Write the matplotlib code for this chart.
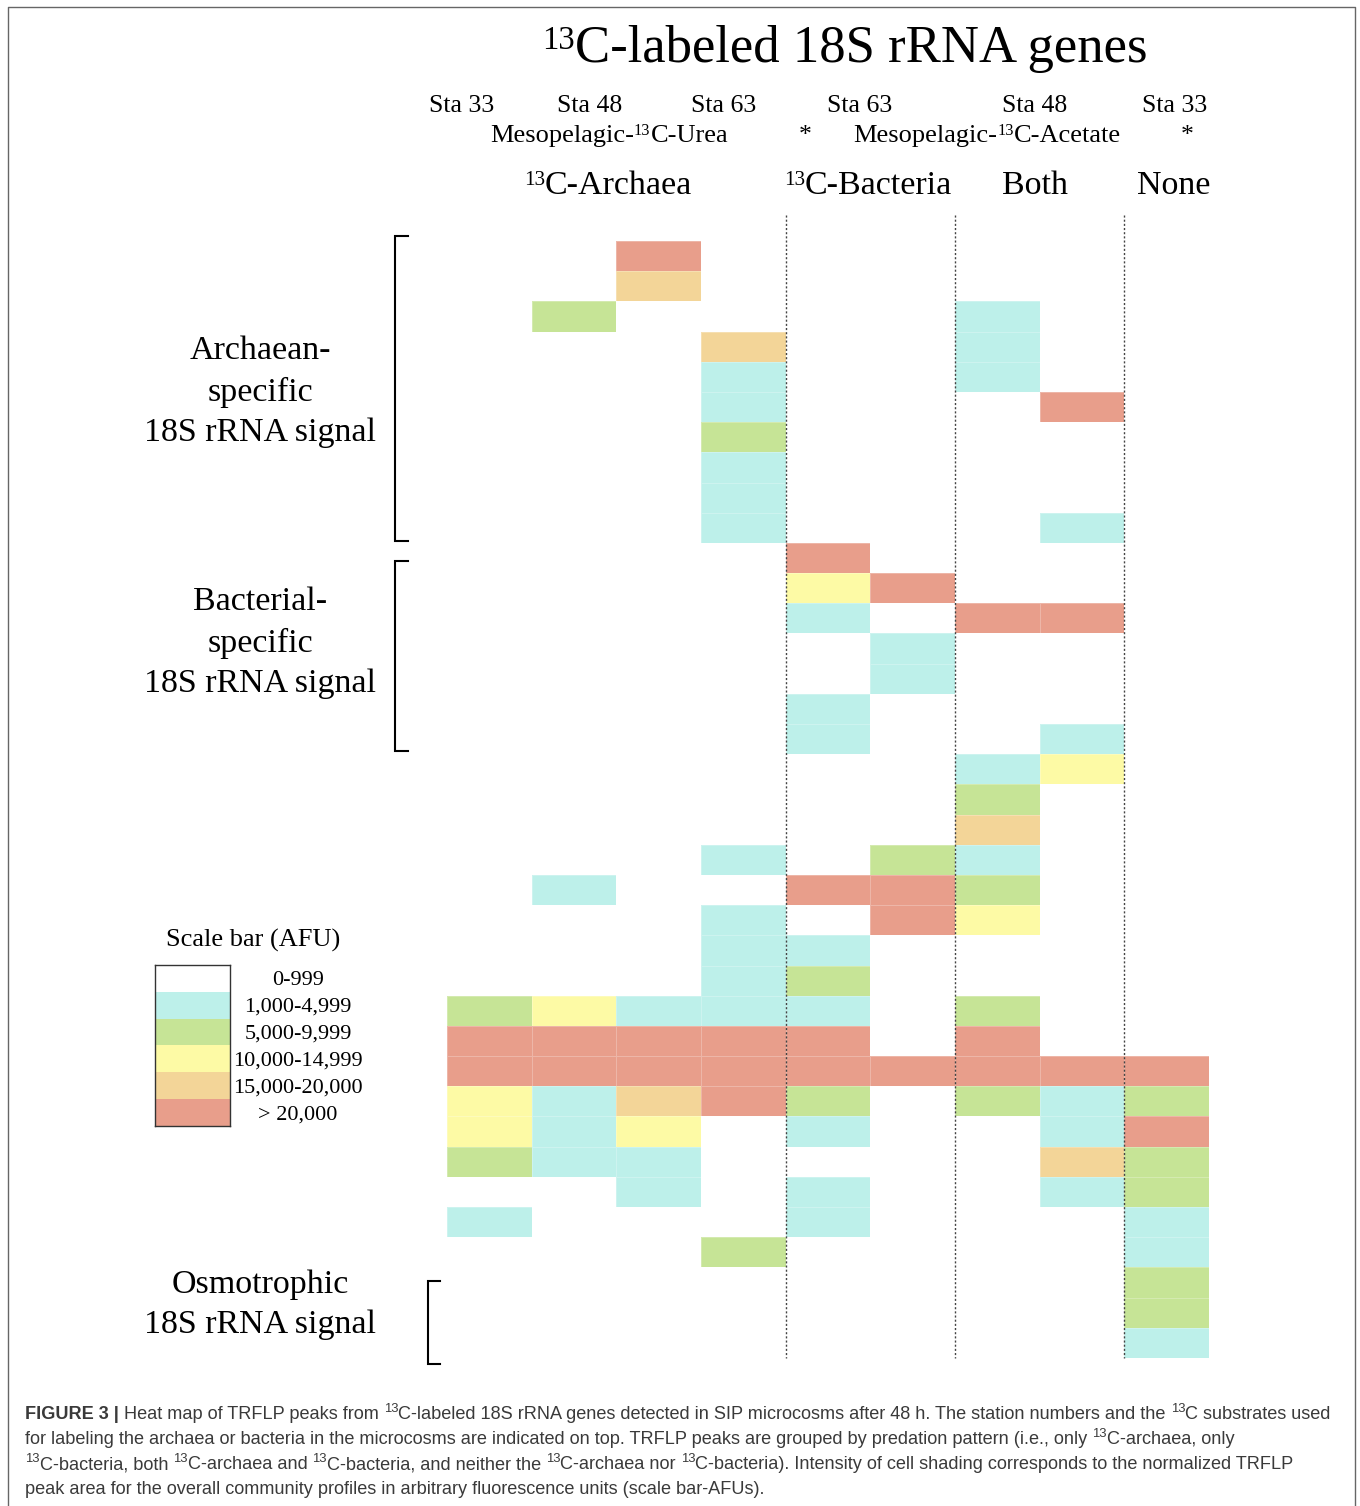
import matplotlib
matplotlib.use("Agg")
import matplotlib.pyplot as plt
import numpy as np
from matplotlib.colors import ListedColormap, BoundaryNorm
from matplotlib import font_manager

# --- data -------------------------------------------------------------
# AFU class per TRFLP peak (row) and column: 0 = 0-999 ... 5 = > 20,000
afu_class = [
    [0, 0, 5, 0, 0, 0, 0, 0, 0],
    [0, 0, 4, 0, 0, 0, 0, 0, 0],
    [0, 2, 0, 0, 0, 0, 1, 0, 0],
    [0, 0, 0, 4, 0, 0, 1, 0, 0],
    [0, 0, 0, 1, 0, 0, 1, 0, 0],
    [0, 0, 0, 1, 0, 0, 0, 5, 0],
    [0, 0, 0, 2, 0, 0, 0, 0, 0],
    [0, 0, 0, 1, 0, 0, 0, 0, 0],
    [0, 0, 0, 1, 0, 0, 0, 0, 0],
    [0, 0, 0, 1, 0, 0, 0, 1, 0],
    [0, 0, 0, 0, 5, 0, 0, 0, 0],
    [0, 0, 0, 0, 3, 5, 0, 0, 0],
    [0, 0, 0, 0, 1, 0, 5, 5, 0],
    [0, 0, 0, 0, 0, 1, 0, 0, 0],
    [0, 0, 0, 0, 0, 1, 0, 0, 0],
    [0, 0, 0, 0, 1, 0, 0, 0, 0],
    [0, 0, 0, 0, 1, 0, 0, 1, 0],
    [0, 0, 0, 0, 0, 0, 1, 3, 0],
    [0, 0, 0, 0, 0, 0, 2, 0, 0],
    [0, 0, 0, 0, 0, 0, 4, 0, 0],
    [0, 0, 0, 1, 0, 2, 1, 0, 0],
    [0, 1, 0, 0, 5, 5, 2, 0, 0],
    [0, 0, 0, 1, 0, 5, 3, 0, 0],
    [0, 0, 0, 1, 1, 0, 0, 0, 0],
    [0, 0, 0, 1, 2, 0, 0, 0, 0],
    [2, 3, 1, 1, 1, 0, 2, 0, 0],
    [5, 5, 5, 5, 5, 0, 5, 0, 0],
    [5, 5, 5, 5, 5, 5, 5, 5, 5],
    [3, 1, 4, 5, 2, 0, 2, 1, 2],
    [3, 1, 3, 0, 1, 0, 0, 1, 5],
    [2, 1, 1, 0, 0, 0, 0, 4, 2],
    [0, 0, 1, 0, 1, 0, 0, 1, 2],
    [1, 0, 0, 0, 1, 0, 0, 0, 1],
    [0, 0, 0, 2, 0, 0, 0, 0, 1],
    [0, 0, 0, 0, 0, 0, 0, 0, 2],
    [0, 0, 0, 0, 0, 0, 0, 0, 2],
    [0, 0, 0, 0, 0, 0, 0, 0, 1],
]
scale_labels = ["0-999", "1,000-4,999", "5,000-9,999", "10,000-14,999",
                "15,000-20,000", "> 20,000"]
scale_colors = ["#ffffff", "#bdf0ea", "#c6e496", "#fdfaa5", "#f3d598", "#e89e8b"]
group_split_cols = [4, 6, 8]   # dotted separators between predation groups

station_labels = ["Sta 33", "Sta 48", "Sta 63", "Sta 63", "Sta 48", "Sta 33"]
station_x = [462, 590, 724, 860, 1035, 1175]
group_labels = [[("13", "s"), ("C-Archaea", "n")],
                [("13", "s"), ("C-Bacteria", "n")],
                [("Both", "n")],
                [("None", "n")]]
group_x = [608, 868, 1035, 1174]

SERIF = ["Liberation Serif", "DejaVu Serif"]
names = {f.name for f in font_manager.fontManager.ttflist}
SANS = ["Liberation Sans Narrow", "Liberation Sans"] if "Liberation Sans Narrow" in names else ["Liberation Sans"]

W, H = 1360, 1506
fig = plt.figure(figsize=(W / 100, H / 100), dpi=100)
renderer = fig.canvas.get_renderer()

# overlay axes in pixel coordinates for annotations
ov = fig.add_axes([0, 0, 1, 1])
ov.set_xlim(0, W)
ov.set_ylim(H, 0)
ov.axis("off")


def adv(txt, **kw):
    # advance width of a string (keeps leading / trailing spaces)
    m = ov.text(0, 0, "|" + txt + "|", **kw)
    w1 = m.get_window_extent(renderer).width
    m.set_text("||")
    w0 = m.get_window_extent(renderer).width
    m.remove()
    return w1 - w0


def rich(x, y, parts, size, family, ha="left", color="black", sup=0.62, rise=0.25,
         draw=True):
    specs = []
    for txt, kind in parts:
        kw = dict(fontsize=size * sup if kind == "s" else size, family=family,
                  weight="bold" if kind == "b" else "normal", color=color)
        specs.append((txt, kind, kw, adv(txt, **kw)))
    total = sum(s[3] for s in specs)
    if not draw:
        return total
    x0 = x - total / 2 if ha == "center" else x
    for txt, kind, kw, w in specs:
        dy = -size * rise * 100 / 72 if kind == "s" else 0
        ov.text(x0, y + dy, txt, ha="left", va="baseline", **kw)
        x0 += w
    return total


# --- heat map ---------------------------------------------------------
mat = np.array(afu_class)
nrow, ncol = mat.shape
cmap = ListedColormap(scale_colors)
norm = BoundaryNorm(np.arange(-0.5, 6.5), cmap.N)

ax = fig.add_axes([447 / W, 1 - 1358 / H, 762 / W, 1117 / H])
ax.pcolormesh(np.arange(ncol + 1), np.arange(nrow + 1), mat, cmap=cmap, norm=norm,
              edgecolors=(1, 1, 1, 0.25), linewidth=0.6)
ax.set_xlim(0, ncol)
ax.set_ylim(nrow, 0)
ax.axis("off")
ax.vlines(group_split_cols, -0.86, nrow, colors="#444444", linestyles=(0, (1.5, 1.5)),
          linewidth=1.0, clip_on=False, zorder=5)

# --- header text ------------------------------------------------------
rich(845, 62, [("13", "s"), ("C-labeled 18S rRNA genes", "n")], 38, SERIF, ha="center")
for lab, xc in zip(station_labels, station_x):
    ov.text(xc, 112, lab, ha="center", va="baseline", fontsize=18.5, family=SERIF)
rich(609, 142, [("Mesopelagic-", "n"), ("13", "s"), ("C-Urea", "n")], 19, SERIF, ha="center")
rich(987, 142, [("Mesopelagic-", "n"), ("13", "s"), ("C-Acetate", "n")], 19, SERIF, ha="center")
for xs in (805, 1187):
    ov.text(xs, 142, "*", ha="center", va="baseline", fontsize=18.5, family=SERIF)
for parts, xc in zip(group_labels, group_x):
    rich(xc, 194, parts, 24.5, SERIF, ha="center")

# --- row group labels and brackets ------------------------------------
ov.text(260, 392, "Archaean-\nspecific\n18S rRNA signal", ha="center", va="center",
        fontsize=24.5, family=SERIF, linespacing=1.42)
ov.text(260, 643, "Bacterial-\nspecific\n18S rRNA signal", ha="center", va="center",
        fontsize=24.5, family=SERIF, linespacing=1.42)
ov.text(260, 1305, "Osmotrophic\n18S rRNA signal", ha="center", va="center",
        fontsize=24.5, family=SERIF, linespacing=1.42)
for x0, x1, y0, y1 in [(395, 408, 236, 541), (395, 408, 561, 751), (428, 440, 1281, 1364)]:
    ov.plot([x1, x0, x0, x1], [y0, y0, y1, y1], color="black", lw=1.5,
            solid_joinstyle="miter")

# --- scale bar --------------------------------------------------------
ov.text(253, 940, "Scale bar (AFU)", ha="center", va="center", fontsize=19, family=SERIF)
lax = fig.add_axes([155 / W, 1 - 1126 / H, 75 / W, 161 / H])
lax.imshow(np.arange(len(scale_colors)).reshape(-1, 1), cmap=cmap, norm=norm, aspect="auto")
lax.set_xticks([])
lax.set_yticks([])
for sp in lax.spines.values():
    sp.set_color("#333333")
    sp.set_linewidth(1.0)
for i, lab in enumerate(scale_labels):
    ov.text(298, 980 + 27.1 * i, lab, ha="center", va="center",
            fontsize=16, family=SERIF)

# --- frame and caption ------------------------------------------------
ov.plot([8, 8, 1355, 1355], [H + 5, 7, 7, H + 5], color="#666666", lw=1.0, clip_on=False)

cap = "#3a3a3a"
cap_lines = [
    [("FIGURE 3 |", "b"), (" Heat map of TRFLP peaks from ", "n"), ("13", "s"),
     ("C-labeled 18S rRNA genes detected in SIP microcosms after 48 h. The station numbers and the ", "n"),
     ("13", "s"), ("C substrates used", "n")],
    [("for labeling the archaea or bacteria in the microcosms are indicated on top. TRFLP peaks are "
      "grouped by predation pattern (i.e., only ", "n"), ("13", "s"), ("C-archaea, only", "n")],
    [("13", "s"), ("C-bacteria, both ", "n"), ("13", "s"), ("C-archaea and ", "n"), ("13", "s"),
     ("C-bacteria, and neither the ", "n"), ("13", "s"), ("C-archaea nor ", "n"), ("13", "s"),
     ("C-bacteria). Intensity of cell shading corresponds to the normalized TRFLP", "n")],
    [("peak area for the overall community profiles in arbitrary fluorescence units (scale bar-AFUs).", "n")],
]
# fit the first caption line to the printed width (x 25 .. 1339)
w14 = rich(25, 0, cap_lines[0], 14, SANS, sup=0.72, draw=False)
cap_size = 14 * 1314 / w14
for k, parts in enumerate(cap_lines):
    rich(25, 1419 + 25 * k, parts, cap_size, SANS, color=cap, sup=0.72, rise=0.36)

fig.savefig("out.png", dpi=100)
